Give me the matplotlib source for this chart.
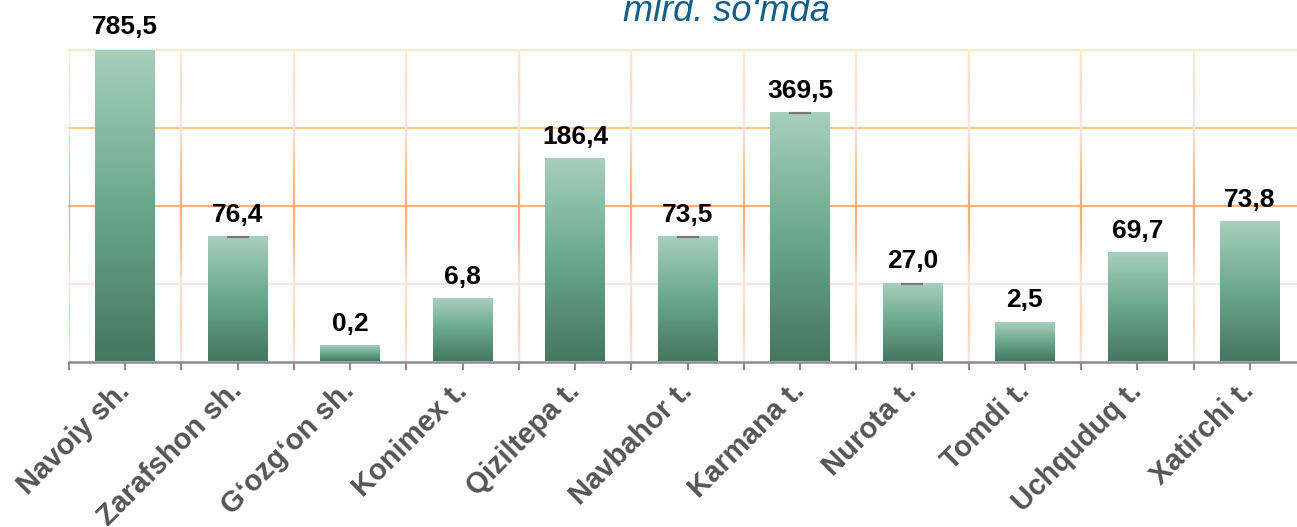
import numpy as np
import matplotlib
matplotlib.use('Agg')
import matplotlib.pyplot as plt
from matplotlib.colors import LinearSegmentedColormap
from matplotlib.collections import LineCollection

districts = ['Navoiy sh.', 'Zarafshon sh.', 'G‘ozg‘on sh.', 'Konimex t.', 'Qiziltepa t.',
             'Navbahor t.', 'Karmana t.', 'Nurota t.', 'Tomdi t.', 'Uchquduq t.', 'Xatirchi t.']
values = [785.5, 76.4, 0.2, 6.8, 186.4, 73.5, 369.5, 27.0, 2.5, 69.7, 73.8]
bar_levels = [4.0, 1.59, 0.2, 0.8, 2.59, 1.59, 3.18, 1.0, 0.5, 1.39, 1.79]
capped = ['Zarafshon sh.', 'Navbahor t.', 'Karmana t.', 'Nurota t.']
unit = 'mlrd. so‘mda'

plt.rcParams['font.family'] = ['Liberation Sans', 'DejaVu Sans']

bar_cmap = LinearSegmentedColormap.from_list('bars', ['#457660', '#6aa88c', '#a7cfbd'])
vgrid_cmap = LinearSegmentedColormap.from_list('vgrid', [
    (0.0, '#fde4ea'), (0.12, '#fed2ac'), (0.245, '#fde2d8'), (0.255, '#fde2d8'),
    (0.38, '#ffb98e'), (0.5, '#ffab80'), (0.62, '#ffc48a'), (0.745, '#fde0e0'),
    (0.755, '#fde3e6'), (0.88, '#fddccc'), (1.0, '#fde9cc')])
hgrid_colors = ['#fde3e3', '#ffb07e', '#ffc98a', '#fde8c8']

n = len(districts)
x = np.arange(n)
w = 0.53

fig = plt.figure(figsize=(12.97, 5.27), dpi=100)
ax = fig.add_axes([69 / 1297, 1 - 361.5 / 527, 1237 / 1297, 312 / 527])

# gridlines: horizontal with fixed colours, vertical with a colour gradient
for lvl, c in zip(range(1, 5), hgrid_colors):
    ax.axhline(lvl, color=c, lw=1.6, zorder=1, clip_on=False)
ys = np.linspace(0, 4, 240)
segs, cols = [], []
for xb in np.arange(-0.5, n):
    for y0, y1 in zip(ys[:-1], ys[1:]):
        segs.append([(xb, y0), (xb, y1)])
        cols.append(vgrid_cmap((y0 + y1) / 8))
ax.add_collection(LineCollection(segs, colors=cols, linewidths=1.6, capstyle='butt', zorder=1))

# gradient filled bars
grad = np.linspace(0, 1, 256).reshape(-1, 1)
for i, h in enumerate(bar_levels):
    ax.imshow(grad, cmap=bar_cmap, origin='lower', aspect='auto',
              extent=[i - w / 2, i + w / 2, 0, h], zorder=3)

cap_idx = [districts.index(d) for d in capped]
ax.errorbar(cap_idx, [bar_levels[i] for i in cap_idx], yerr=0, fmt='none',
            ecolor='#777777', capsize=8, capthick=1.5, elinewidth=1, zorder=4)

for i, (h, v) in enumerate(zip(bar_levels, values)):
    ax.annotate(f'{v:.1f}'.replace('.', ','), (i, h), xytext=(0, 11),
                textcoords='offset points', ha='center', va='baseline',
                fontsize=19, fontweight='bold', color='black', annotation_clip=False)

ax.set_xlim(-0.5, n - 0.5)
ax.set_ylim(0, 4)
ax.set_xticks(x)
ax.set_xticks(np.arange(-0.5, n), minor=True)
ax.set_xticklabels(districts, rotation=45, ha='right', va='center', rotation_mode='anchor',
                   fontsize=21, fontweight='bold', color='#555555')
ax.tick_params(axis='x', which='both', length=6, width=1.5, color='#8c8c8c', pad=12)
ax.set_yticks([])
for s in ['top', 'right', 'left']:
    ax.spines[s].set_visible(False)
ax.spines['bottom'].set_color('#8c8c8c')
ax.spines['bottom'].set_linewidth(1.8)
ax.spines['bottom'].set_zorder(5)

fig.text(726 / 1297, 1 - 20.7 / 527, unit, ha='center', va='baseline',
         fontsize=26, fontstyle='italic', color='#0e5f8a')

fig.savefig('out.png', dpi=100)
